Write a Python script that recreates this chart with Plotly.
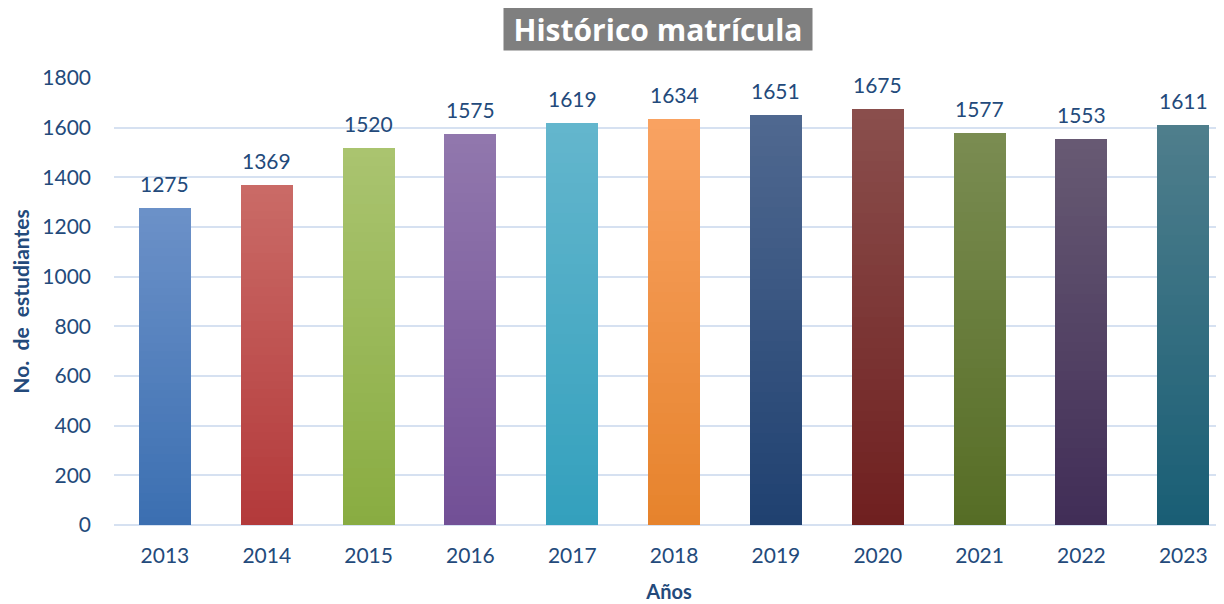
import plotly.graph_objects as go

years = ["2013", "2014", "2015", "2016", "2017", "2018", "2019", "2020", "2021", "2022", "2023"]
students = [1275, 1369, 1520, 1575, 1619, 1634, 1651, 1675, 1577, 1553, 1611]

top_colors = ["#6c91c8", "#ca6b67", "#aac470", "#9178ad", "#64b6cd", "#f9a262", "#506890", "#8a4f4d", "#7a8c52", "#675a73", "#4f7e8c"]
bottom_colors = ["#3b6fb1", "#b3393a", "#89ac41", "#724f96", "#33a0bd", "#e6832c", "#1f4170", "#6f1f1f", "#566d25", "#412d57", "#195e75"]

TEXT = "#234a7b"
N_SEG = 40
OFF = 8  # default page body margin in the browser

W, H = 1224 - OFF, 604 - OFF
L, T = 114 - OFF, 78 - OFF
B = H - (525 - OFF)


def hex2rgb(h):
    h = h.lstrip("#")
    return tuple(int(h[i:i + 2], 16) for i in (0, 2, 4))


def mix(c1, c2, t):
    a, b = hex2rgb(c1), hex2rgb(c2)
    return "rgb(%d,%d,%d)" % tuple(round(a[i] + (b[i] - a[i]) * t) for i in range(3))


fig = go.Figure()
for k in range(N_SEG):
    t = (k + 0.5) / N_SEG  # 0 bottom -> 1 top
    fig.add_trace(go.Bar(
        x=years,
        y=[v / N_SEG * 1.02 if k < N_SEG - 1 else v / N_SEG for v in students],
        base=[v * k / N_SEG for v in students],
        marker=dict(color=[mix(b, tp, t) for b, tp in zip(bottom_colors, top_colors)], line=dict(width=0)),
        width=0.51,
        hoverinfo="skip",
        showlegend=False,
    ))

for i, v in enumerate(students):
    fig.add_annotation(x=i, y=v, xref="x", yref="y", text=str(v), showarrow=False,
                       yanchor="bottom", yshift=10,
                       font=dict(family="Lato", size=21, color=TEXT))

plot_w = W - L
plot_h = H - T - B
fig.add_annotation(xref="paper", yref="paper", x=(658 - OFF - L) / plot_w, y=1 + (T - (29 - OFF)) / plot_h,
                   text="<b>Histórico matrícula</b>", showarrow=False, xanchor="center", yanchor="middle",
                   bgcolor="#7f7f7f", borderpad=0, width=308, height=42,
                   font=dict(family="Open Sans", size=30, color="white"))

fig.update_layout(
    width=W, height=H,
    margin=dict(l=L, r=0, t=T, b=B),
    paper_bgcolor="white", plot_bgcolor="white",
    barmode="overlay", bargap=0,
    font=dict(family="Lato", color=TEXT),
    xaxis=dict(type="category", range=[-0.5, 10.4], automargin=False,
               showgrid=False, showline=False, ticks="", ticklabelstandoff=16,
               tickfont=dict(size=21, color=TEXT),
               title=dict(text="<b>Años</b>", font=dict(size=20, color=TEXT), standoff=18)),
    yaxis=dict(range=[0, 1800], dtick=200, automargin=False,
               showgrid=True, gridcolor="#d6e1f1", gridwidth=2,
               zeroline=True, zerolinecolor="#d6e1f1", zerolinewidth=2,
               ticks="", ticklabelstandoff=22,
               tickfont=dict(size=21, color=TEXT),
               title=dict(text="<b>No.  de  estudiantes</b>", font=dict(size=21, color=TEXT), standoff=12)),
)

fig.write_html("out.html")
